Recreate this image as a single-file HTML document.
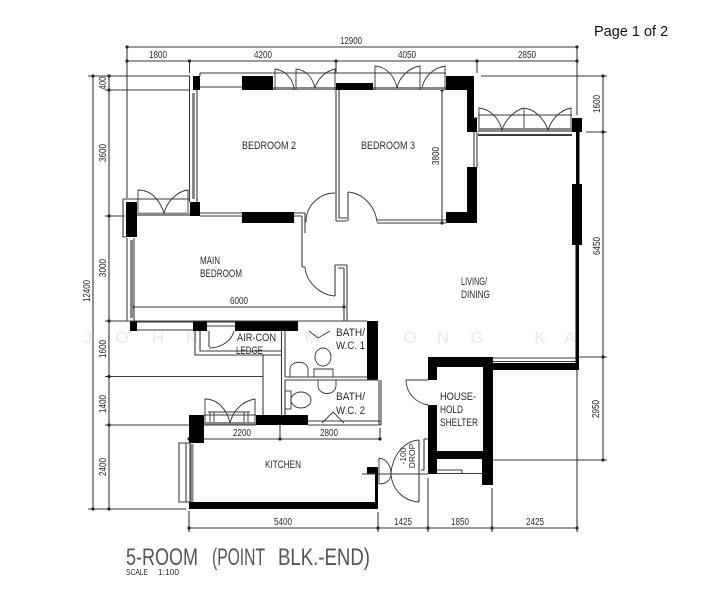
<!DOCTYPE html>
<html><head><meta charset="utf-8"><style>
html,body{margin:0;padding:0;background:#fff;width:711px;height:600px;overflow:hidden}
svg{display:block}
.b{filter:blur(.35px)}
text{font-family:"Liberation Sans",sans-serif;fill:#2a2a2a}
.d{font-size:9.7px;text-anchor:middle}
.r{font-size:11px}
.l{stroke:#3a3a3a;stroke-width:1.1;fill:none}
.a{stroke:#333;stroke-width:.9;fill:none}
.g{fill:#888}
.w{fill:#000}
.m{font-size:17px;fill:#e8e8e8;text-anchor:middle}
</style></head><body>
<svg width="711" height="600" viewBox="0 0 711 600" xmlns="http://www.w3.org/2000/svg">
<rect width="711" height="600" fill="#fff"/>
<text x="594" y="36" style="font-size:14.5px;fill:#111">Page 1 of 2</text>
<g class="b">
<!-- watermark -->
<g>
<text class="m" x="88" y="343">J</text><text class="m" x="122" y="343">O</text><text class="m" x="158" y="343">H</text><text class="m" x="192" y="343">N</text>
<text class="m" x="312" y="343">M</text><text class="m" x="373" y="343">H</text><text class="m" x="410" y="343">O</text><text class="m" x="443" y="343">N</text><text class="m" x="477" y="343">G</text><text class="m" x="540" y="343">K</text><text class="m" x="570" y="343">A</text>
</g>

<!-- dimension lines -->
<path class="l" d="M127 47H577M127 61H577M127 47V198M189.500 61V73M336 61V73M477 61V73M577 47V115
M93 76V509M109 76V509M88 76H190M105 90H190M105 216H125M105 321H130M105 376.500H263M105 425H190M88 509H186
M481 76H607M586 132H607M579 357H607M493 460H607M603 76V460M442 90V223
M189 528H577M189 511V532M378 512V532M428 478V532M492 488V532M577 370V532
M189 439H380M280 415V439M380 428V439M133 307H345"/>
<g fill="#222">
<circle cx="127" cy="47" r="1.600"/><circle cx="577" cy="47" r="1.600"/>
<circle cx="127" cy="61" r="1.600"/><circle cx="189.500" cy="61" r="1.600"/><circle cx="336" cy="61" r="1.600"/><circle cx="477" cy="61" r="1.600"/><circle cx="577" cy="61" r="1.600"/>
<circle cx="93" cy="76" r="1.600"/><circle cx="93" cy="509" r="1.600"/>
<circle cx="109" cy="76" r="1.600"/><circle cx="109" cy="90" r="1.600"/><circle cx="109" cy="216" r="1.600"/><circle cx="109" cy="321" r="1.600"/><circle cx="109" cy="376.500" r="1.600"/><circle cx="109" cy="425" r="1.600"/><circle cx="109" cy="509" r="1.600"/>
<circle cx="603" cy="76" r="1.600"/><circle cx="603" cy="132" r="1.600"/><circle cx="603" cy="357" r="1.600"/><circle cx="603" cy="460" r="1.600"/>
<circle cx="442" cy="90" r="1.600"/><circle cx="442" cy="223" r="1.600"/>
<circle cx="189" cy="528" r="1.600"/><circle cx="378" cy="528" r="1.600"/><circle cx="428" cy="528" r="1.600"/><circle cx="492" cy="528" r="1.600"/><circle cx="577" cy="528" r="1.600"/>
<circle cx="189" cy="439" r="1.600"/><circle cx="280" cy="439" r="1.600"/><circle cx="380" cy="439" r="1.600"/>
<circle cx="133" cy="307" r="1.600"/><circle cx="344" cy="307" r="1.600"/>
</g>

<!-- black wall blocks -->
<g class="w">
<rect x="193" y="76" width="7" height="14"/>
<rect x="242" y="76" width="31" height="14"/>
<rect x="336" y="83" width="37" height="7"/>
<path d="M446 76H474V118H477V132H467V90H446Z"/>
<rect x="572" y="118" width="10" height="14"/>
<rect x="576" y="132" width="3.500" height="54"/>
<rect x="572" y="184" width="10" height="61"/>
<path d="M467 167H477V223H446V212H467Z"/>
<rect x="190" y="202" width="10" height="14"/>
<rect x="126" y="202" width="11" height="35"/>
<rect x="242" y="212" width="52" height="11"/>
<rect x="130" y="321" width="7" height="10"/>
<rect x="193" y="321" width="14" height="10"/>
<rect x="235" y="321" width="63" height="10"/>
<rect x="367" y="321" width="11" height="59"/>
<rect x="189" y="415" width="15" height="28"/>
<rect x="256" y="415" width="52" height="10"/>
<path d="M189 502H375V470H378V509H189Z"/>
<rect x="367" y="467" width="11" height="7"/>
<path fill-rule="evenodd" d="M428 357H493V485H482V459H437V474H428V405H437V380H428ZM437 367V451H483V367Z"/>
<rect x="493" y="363" width="86" height="7"/>
<rect x="575.500" y="245" width="3.500" height="125"/>
</g>

<!-- gray window bands -->
<g class="g">
<rect x="273" y="87" width="63" height="3"/>
<rect x="373" y="87" width="73" height="3"/>
<rect x="478" y="128" width="94" height="4"/>
<rect x="192" y="93" width="3" height="106"/>
<rect x="137" y="212.500" width="53" height="3.500"/>
<rect x="130" y="240" width="3" height="78"/>
<rect x="204" y="422" width="52" height="3"/>
<rect x="190.500" y="444" width="3" height="58"/>
</g>

<!-- walls / outlines -->
<path class="l" d="M200 73H336M200 73V76M200 87H242M336 73H446
M189.500 76V202M197 90V202
M336 90V221M339 90V218M339 218H347M336 221H347M348 192V221
M200 213H242M200 216H242M294 213H305M294 216H302M302 216V267M305 213V233M302 267H305
M377 220H446M377 223H446
M123 199V237H126M123 199H190M127 238V321M134 238V321
M137 322H193M137 330H193M130 321H367
M335 265V296M335 265H347M338 268H344M344 268V321M347 265V321
M478 115H572M474 118H478M477 132V167M474 132V167M478 134.500H572M478 135.500H572
M493 358H576M493 361.500H576
M207 322H235M207 326H235M209 331V347
M195 331V355H282M200 331V351H282M263 355V415
M281.500 331V415M285 331V377M285 380V415
M285 377H367M285 380H378
M379 380V425M381 380V425M308 421H381M308 425H381M204 425H256M204 415H256
M179 443H190V502H179ZM186 443V502
M362 474H428M424 439V470M428 439H424M424 470H421M419 440V474M419 474V502
M437 470H462M437 473.500H482M462 470V473.500"/>

<!-- doors -->
<path class="a" d="M275 90V69A22 22 0 0 1 294 90M296 90V69C308 70 313 80 315 88C317 80 325 71 335 69V90
M375 90V66C388 67 395 78 397 88C399 78 408 68 420 66V90M422 88C424 77 433 68 445 66V90
M479 128V108C490 109 499 118 502 130C505 120 515 110 524 108V128M524 108C534 109 544 118 548 130C551 120 560 110 571 108V128
M138 212V190C152 190 160 201 164 213C167 201 178 191 188 190V212
M306 222C306 205 320 193 335 193M348 192C362 193 375 205 377 222
M305 267C306 282 320 295 335 296
M209 348C222 348 232 340 234 331
M406 380H428M406 380C406 393 416 403 428 405
M205 422V399C218 399 227 410 230 423C233 410 243 401 255 399V422
M419 440C404 441 392 456 391 474C392 490 404 501 419 502
M379 458C386 459 391 465 391 474C391 480 386 484 379 484M379 458V484"/>
<path class="a" d="M309 331L318 338L330 331"/>

<!-- fixtures -->
<path class="a" d="M290 377V369C291 360 307 360 308 369V377
M314 377V369H333V377"/>
<ellipse class="a" cx="323" cy="357" rx="8" ry="9"/>
<path class="a" d="M318 380V386C319 396 335 396 336 386V380"/>
<ellipse class="a" cx="301" cy="400" rx="10" ry="8"/>
<rect class="a" x="285" y="391" width="6" height="18"/>
<path class="a" d="M322 423L333 412L344 423M208 412H250M210 412V422M248 412V422M214 412V422M244 412V422"/>

<!-- dimension text -->
<g class="d">
<text x="351" y="44" textLength="22" lengthAdjust="spacingAndGlyphs">12900</text>
<text x="158" y="58" textLength="18" lengthAdjust="spacingAndGlyphs">1800</text><text x="263" y="58" textLength="18" lengthAdjust="spacingAndGlyphs">4200</text><text x="407" y="58" textLength="18" lengthAdjust="spacingAndGlyphs">4050</text><text x="527" y="58" textLength="18" lengthAdjust="spacingAndGlyphs">2850</text>
<text x="239" y="304" textLength="18" lengthAdjust="spacingAndGlyphs">6000</text>
<text x="242" y="436" textLength="18" lengthAdjust="spacingAndGlyphs">2200</text><text x="329" y="436" textLength="18" lengthAdjust="spacingAndGlyphs">2800</text>
<text x="283" y="525" textLength="18" lengthAdjust="spacingAndGlyphs">5400</text><text x="403" y="525" textLength="18" lengthAdjust="spacingAndGlyphs">1425</text><text x="460" y="525" textLength="18" lengthAdjust="spacingAndGlyphs">1850</text><text x="535" y="525" textLength="18" lengthAdjust="spacingAndGlyphs">2425</text>
<text transform="translate(106 83) rotate(-90)" textLength="13" lengthAdjust="spacingAndGlyphs">400</text>
<text transform="translate(106 153) rotate(-90)" textLength="18" lengthAdjust="spacingAndGlyphs">3600</text>
<text transform="translate(106 268) rotate(-90)" textLength="18" lengthAdjust="spacingAndGlyphs">3000</text>
<text transform="translate(106 349) rotate(-90)" textLength="18" lengthAdjust="spacingAndGlyphs">1600</text>
<text transform="translate(106 404) rotate(-90)" textLength="18" lengthAdjust="spacingAndGlyphs">1400</text>
<text transform="translate(106 467) rotate(-90)" textLength="18" lengthAdjust="spacingAndGlyphs">2400</text>
<text transform="translate(90 291) rotate(-90)" textLength="22" lengthAdjust="spacingAndGlyphs">12400</text>
<text transform="translate(600 104) rotate(-90)" textLength="18" lengthAdjust="spacingAndGlyphs">1600</text>
<text transform="translate(600 246) rotate(-90)" textLength="18" lengthAdjust="spacingAndGlyphs">6450</text>
<text transform="translate(599 409) rotate(-90)" textLength="18" lengthAdjust="spacingAndGlyphs">2950</text>
<text transform="translate(439 156) rotate(-90)" textLength="18" lengthAdjust="spacingAndGlyphs">3800</text>
<text transform="translate(406 456) rotate(-90)" style="font-size:8.5px">-100</text>
<text transform="translate(415 456) rotate(-90)" style="font-size:8.5px">DROP</text>
</g>

<!-- room text -->
<g class="r">
<text x="242" y="149" textLength="54" lengthAdjust="spacingAndGlyphs">BEDROOM 2</text>
<text x="361" y="149" textLength="54" lengthAdjust="spacingAndGlyphs">BEDROOM 3</text>
<text x="200" y="264" textLength="20" lengthAdjust="spacingAndGlyphs">MAIN</text>
<text x="200" y="277" textLength="42" lengthAdjust="spacingAndGlyphs">BEDROOM</text>
<text x="461" y="285" textLength="26" lengthAdjust="spacingAndGlyphs">LIVING/</text>
<text x="461" y="298" textLength="29" lengthAdjust="spacingAndGlyphs">DINING</text>
<text x="237" y="341" textLength="39" lengthAdjust="spacingAndGlyphs">AIR-CON</text>
<text x="236" y="354" textLength="27" lengthAdjust="spacingAndGlyphs">LEDGE</text>
<text x="336" y="336" textLength="29" lengthAdjust="spacingAndGlyphs">BATH/</text>
<text x="336" y="349" textLength="29" lengthAdjust="spacingAndGlyphs">W.C. 1</text>
<text x="336" y="400" textLength="29" lengthAdjust="spacingAndGlyphs">BATH/</text>
<text x="336" y="414" textLength="29" lengthAdjust="spacingAndGlyphs">W.C. 2</text>
<text x="265" y="468" textLength="36" lengthAdjust="spacingAndGlyphs">KITCHEN</text>
<text x="440" y="400" textLength="36" lengthAdjust="spacingAndGlyphs">HOUSE-</text>
<text x="440" y="413" textLength="23" lengthAdjust="spacingAndGlyphs">HOLD</text>
<text x="440" y="426" textLength="38" lengthAdjust="spacingAndGlyphs">SHELTER</text>
</g>
<g style="font-size:24px">
<text x="126" y="565" textLength="72" lengthAdjust="spacingAndGlyphs" style="fill:#555">5-ROOM</text>
<text x="212" y="565" textLength="53" lengthAdjust="spacingAndGlyphs" style="fill:#555">(POINT</text>
<text x="278" y="565" textLength="92" lengthAdjust="spacingAndGlyphs" style="fill:#555">BLK.-END)</text>
</g>
<text x="126" y="575" textLength="22" lengthAdjust="spacingAndGlyphs" style="font-size:8px">SCALE</text>
<text x="158" y="575" textLength="21" lengthAdjust="spacingAndGlyphs" style="font-size:8px">1:100</text>
</g>
</svg>
</body></html>
